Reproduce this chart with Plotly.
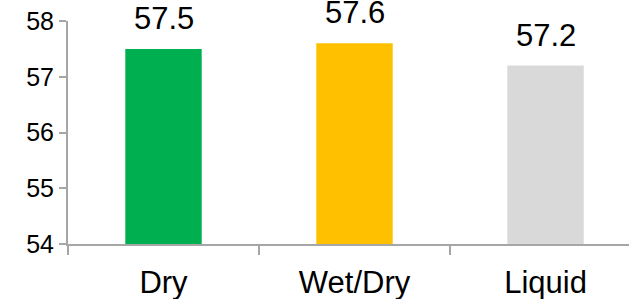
import plotly.graph_objects as go

categories = ["Dry", "Wet/Dry", "Liquid"]
values = [57.5, 57.6, 57.2]
labels = ["57.5", "57.6", "57.2"]
colors = ["#00B050", "#FFC000", "#D9D9D9"]
y_ticks = [54, 55, 56, 57, 58]

FONT = "Liberation Sans, Arial, sans-serif"
AXIS = "#A6A6A6"

fig = go.Figure()
fig.add_trace(go.Bar(
    x=categories, y=values, marker=dict(color=colors, line=dict(width=0)),
    hoverinfo="skip",
))
for c, v, t in zip(categories, values, labels):
    fig.add_annotation(x=c, y=v, text=t, showarrow=False, yanchor="bottom",
                       yshift=11, font=dict(family=FONT, size=31, color="#000000"))

fig.update_layout(
    width=629, height=299,
    margin=dict(l=68, r=0, t=21, b=55),
    paper_bgcolor="white", plot_bgcolor="white",
    showlegend=False, bargap=0.6,
    font=dict(family=FONT, color="#000000"),
)
fig.update_xaxes(
    range=[-0.5, 2.437], showline=True, linecolor=AXIS, linewidth=2,
    ticks="outside", tickson="boundaries", ticklen=9, tickcolor=AXIS, tickwidth=2,
    tickfont=dict(family=FONT, size=31, color="#000000"), ticklabelstandoff=10,
    showgrid=False, zeroline=False, fixedrange=True, automargin=False,
)
fig.update_yaxes(
    range=[54, 58], tickvals=y_ticks, ticktext=[str(v) for v in y_ticks],
    showline=True, linecolor=AXIS, linewidth=2,
    ticks="outside", ticklen=7, tickcolor=AXIS, tickwidth=2,
    tickfont=dict(family=FONT, size=25, color="#000000"), ticklabelstandoff=0,
    showgrid=False, zeroline=False, fixedrange=True, automargin=False,
)
fig.write_html("out.html", config={"displayModeBar": False},
               post_script="document.body.style.margin='0';document.body.style.overflow='hidden';")
